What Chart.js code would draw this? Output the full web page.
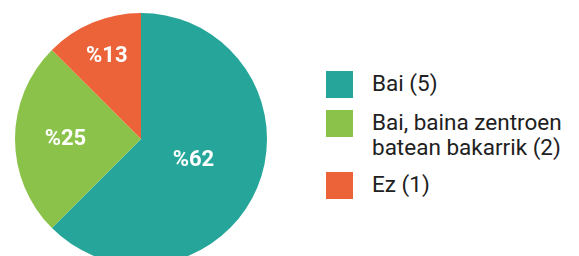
<!DOCTYPE html>
<html>
<head>
<meta charset="utf-8">
<script src="https://cdn.jsdelivr.net/npm/chart.js@4"></script>
<style>
  html, body { margin: 0; padding: 0; background: #fff; overflow: hidden; width: 579px; height: 256px; }
  #wrap { position: absolute; left: 15px; top: 13px; width: 252px; height: 252px; }
  #legend { position: absolute; left: 326px; top: 71px; font-family: Roboto, sans-serif; font-size: 22.5px; color: #212121; }
  .item { display: flex; align-items: flex-start; margin-bottom: 12px; }
  .box { width: 27px; height: 27px; flex: none; margin-right: 19px; }
  .txt { line-height: 25px; white-space: nowrap; }
</style>
</head>
<body>
<div id="wrap"><canvas id="pie"></canvas></div>
<div id="legend"></div>
<script>
const labels = ['Bai (5)', 'Bai, baina zentroen\nbatean bakarrik (2)', 'Ez (1)'];
const counts = [5, 2, 1];
const pctText = ['%62', '%25', '%13'];
const colors = ['#26a69a', '#8bc34a', '#ec6239'];

// legend as html so the long label can wrap
const legend = document.getElementById('legend');
labels.forEach((l, i) => {
  const div = document.createElement('div');
  div.className = 'item';
  div.innerHTML = `<div class="box" style="background:${colors[i]}"></div><div class="txt">${l.replace('\n', '<br>')}</div>`;
  legend.appendChild(div);
});

// percent labels inside slices
const labelFactor = [0.45, 0.6, 0.71];
const pctLabels = {
  id: 'pctLabels',
  afterDatasetsDraw(chart) {
    const { ctx } = chart;
    const meta = chart.getDatasetMeta(0);
    ctx.save();
    ctx.fillStyle = '#fff';
    ctx.font = 'bold 22px Roboto, sans-serif';
    ctx.textAlign = 'center';
    ctx.textBaseline = 'middle';
    meta.data.forEach((arc, i) => {
      const p = arc.getProps(['x', 'y', 'startAngle', 'endAngle', 'outerRadius'], true);
      const mid = (p.startAngle + p.endAngle) / 2;
      const r = p.outerRadius * labelFactor[i];
      ctx.fillText(pctText[i], p.x + Math.cos(mid) * r, p.y + Math.sin(mid) * r);
    });
    ctx.restore();
  }
};

new Chart(document.getElementById('pie'), {
  type: 'pie',
  data: {
    labels,
    datasets: [{
      data: counts,
      backgroundColor: colors,
      borderWidth: 0
    }]
  },
  options: {
    responsive: true,
    maintainAspectRatio: false,
    animation: false,
    layout: { padding: 0 },
    plugins: {
      legend: { display: false },
      tooltip: { enabled: false }
    }
  },
  plugins: [pctLabels]
});
</script>
</body>
</html>
